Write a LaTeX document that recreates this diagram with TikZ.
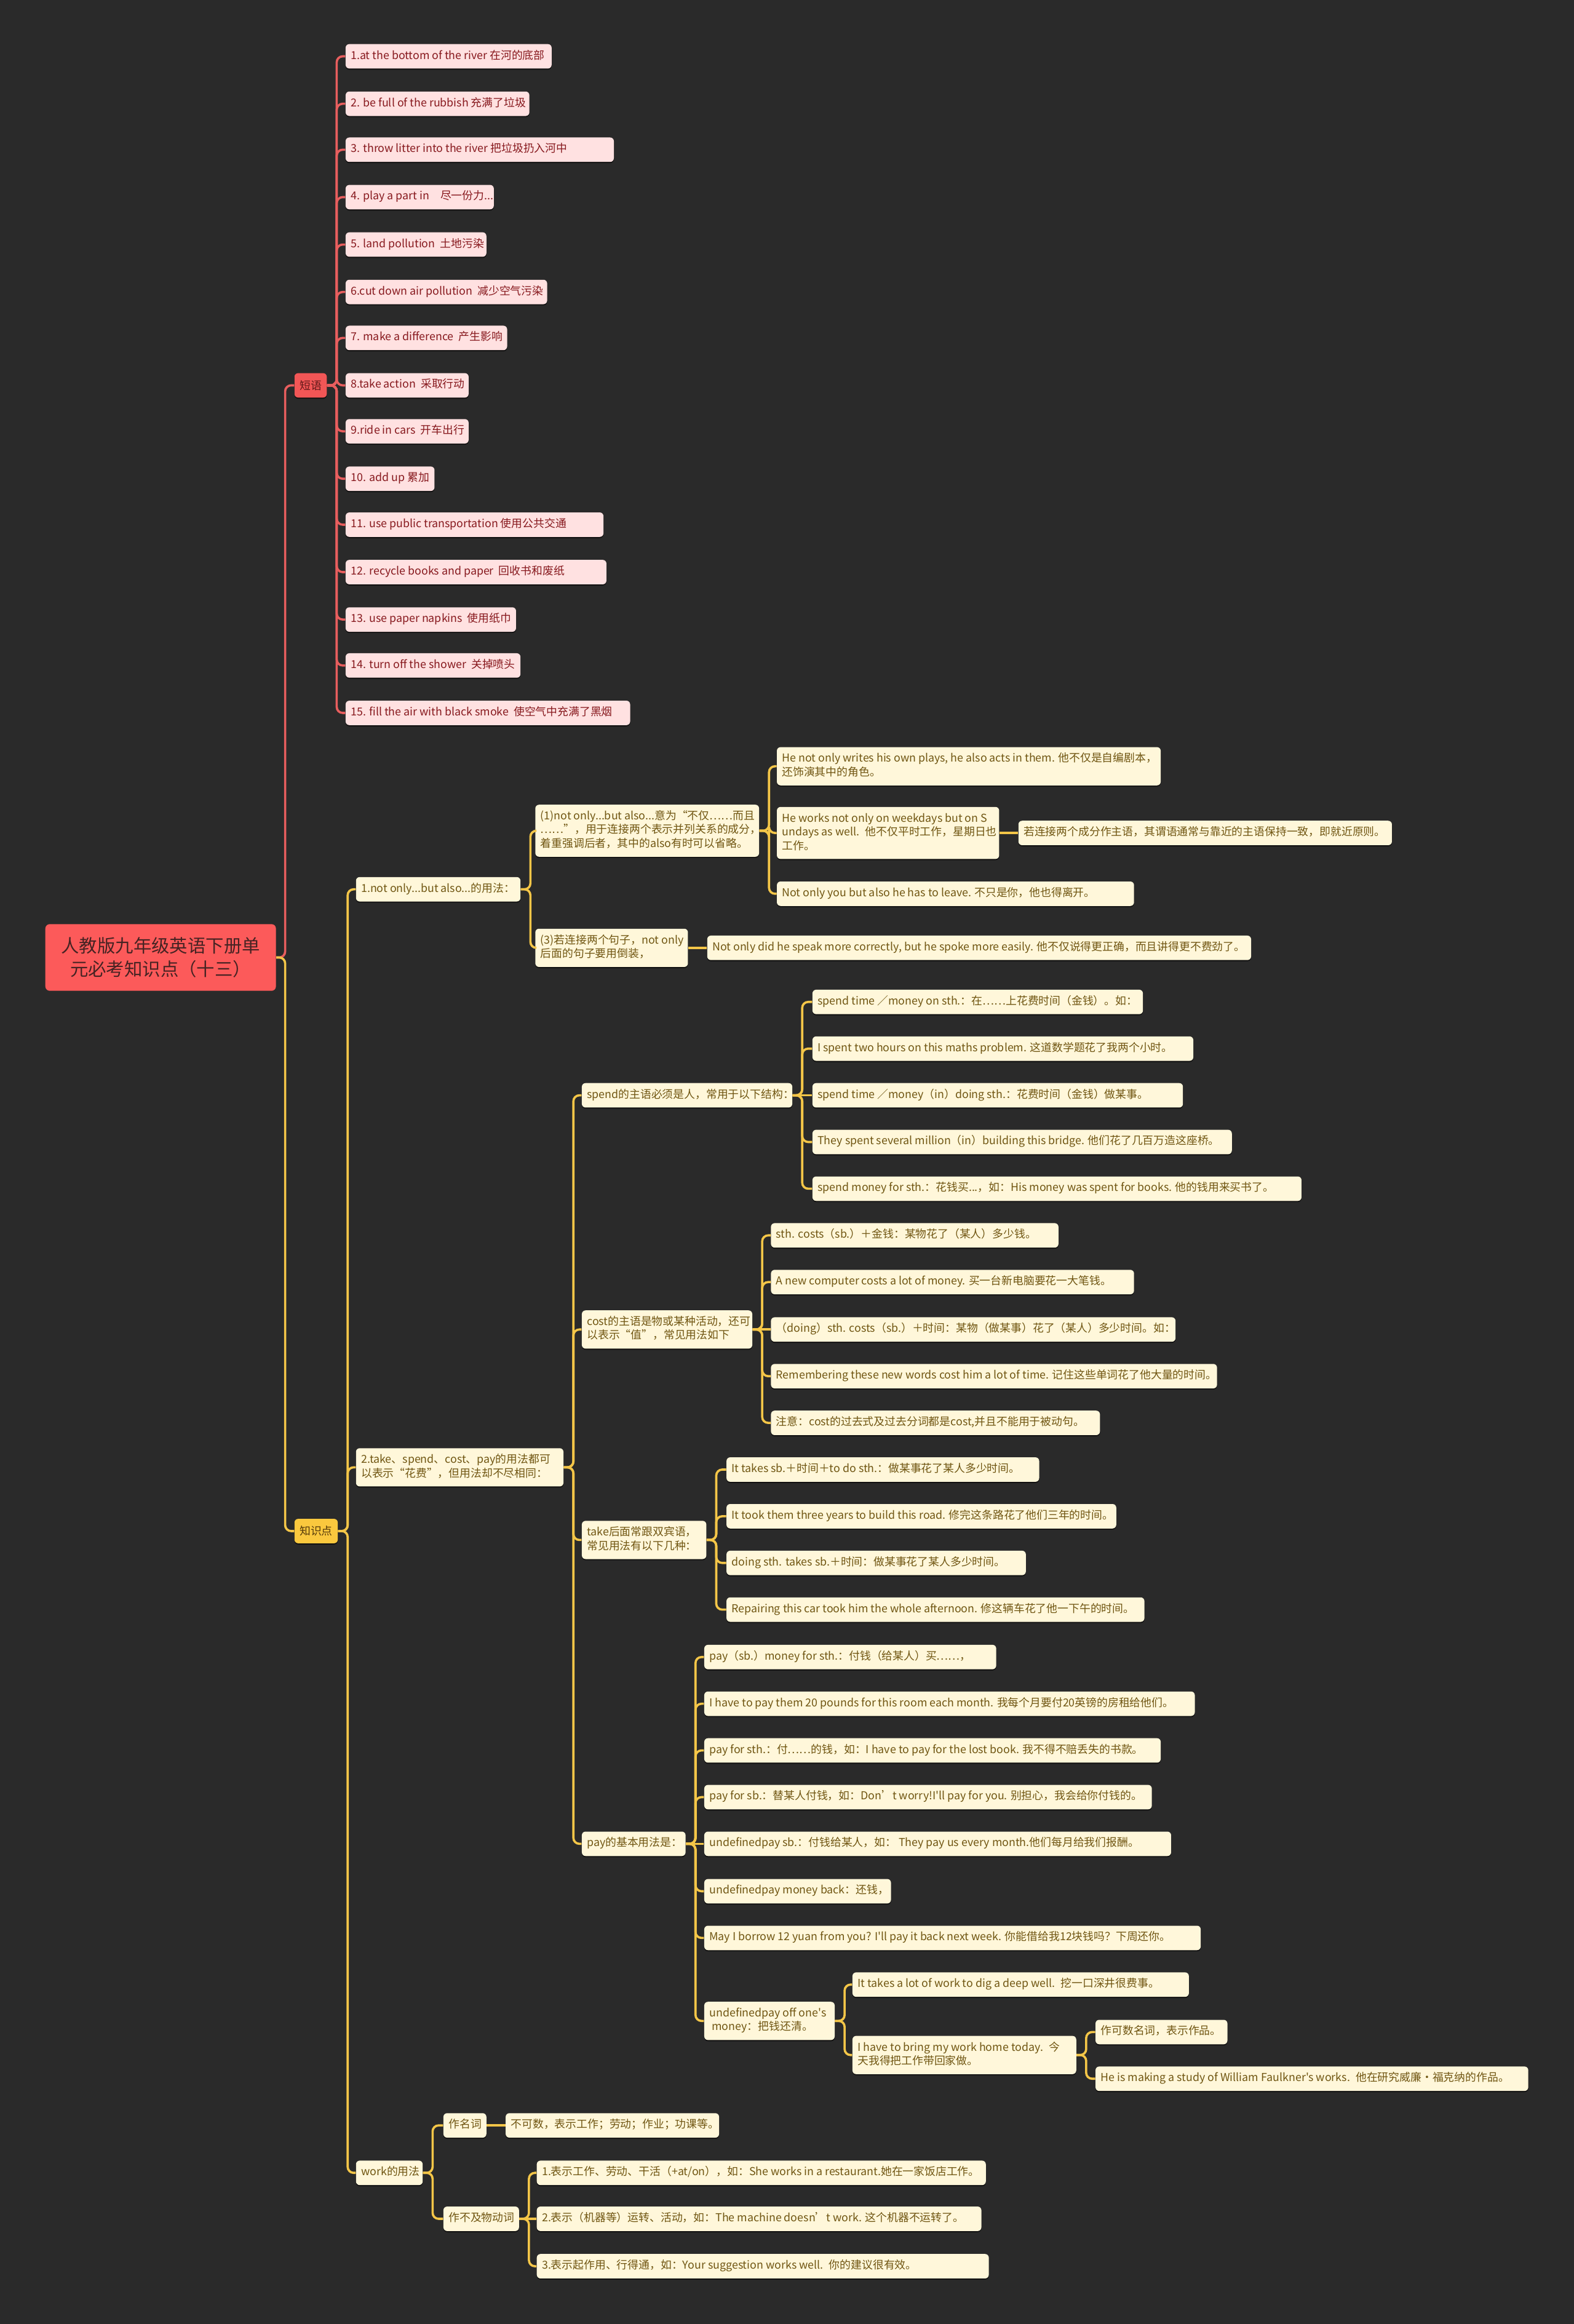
\documentclass[tikz,border=0pt]{standalone}
\usepackage{fontspec}
\newfontfamily\mapfont{Noto Sans CJK SC}
\usetikzlibrary{shadows}
\definecolor{bgdark}{RGB}{42,42,42}
\definecolor{rootred}{RGB}{252,90,90}
\definecolor{roottext}{RGB}{70,35,35}
\definecolor{tagred}{RGB}{242,86,86}
\definecolor{tagtext}{RGB}{95,25,25}
\definecolor{redline}{RGB}{232,94,94}
\definecolor{pinkfill}{RGB}{255,225,225}
\definecolor{pinktext}{RGB}{135,25,30}
\definecolor{goldline}{RGB}{244,198,72}
\definecolor{goldfill}{RGB}{250,200,62}
\definecolor{goldtext}{RGB}{85,58,10}
\definecolor{creamfill}{RGB}{255,247,218}
\definecolor{creamtext}{RGB}{112,86,18}
% text of a box: width, then lines
\newcommand{\mapline}[2]{\makebox[#1][l]{\begin{tabular}{@{}l@{}}#2\end{tabular}}}
\tikzset{
    mapbox/.style = {rounded corners=2.5pt, inner xsep=3.5pt, inner ysep=3.6pt,
        minimum height=16.5pt, anchor=west,
        font=\mapfont\fontsize{7.4}{9.3}\selectfont,
        drop shadow={shadow xshift=0pt, shadow yshift=-0.8pt, opacity=0.6, fill=black}},
    pinkbox/.style = {mapbox, fill=pinkfill, text=pinktext},
    creambox/.style = {mapbox, fill=creamfill, text=creamtext},
    rootbox/.style = {rounded corners=3pt, fill=rootred, text=roottext, anchor=west,
        font=\mapfont\fontsize{12.2}{15.9}\selectfont, align=center,
        minimum width=155.6pt, minimum height=45pt},
    redlink/.style = {draw=redline, line width=1.5pt, rounded corners=4pt},
    goldlink/.style = {draw=goldline, line width=1.5pt, rounded corners=4pt}
}
\begin{document}
\begin{tikzpicture}[x=1pt,y=-1pt]
\fill[bgdark] (0,0) rectangle (1062,1568);
\useasboundingbox (0,0) rectangle (1062,1568);

% root and main branches
\node[rootbox] (root) at (30.4,646) {人教版九年级英语下册单\\元必考知识点（十三）};
\node[mapbox, fill=tagred, text=tagtext] (dy) at (198.5,260) {短语};
\node[mapbox, fill=goldfill, text=goldtext] (zsd) at (198.5,1033) {知识点};

% phrases
\node[pinkbox] (p1) at (233,38) {\mapline{132pt}{1.at the bottom of the river 在河的底部}};
\node[pinkbox] (p2) at (233,70) {\mapline{117pt}{2. be full of the rubbish 充满了垃圾}};
\node[pinkbox] (p3) at (233,101) {\mapline{174pt}{3. throw litter into the river 把垃圾扔入河中}};
\node[pinkbox] (p4) at (233,133) {\mapline{93pt}{4. play a part in　尽一份力...}};
\node[pinkbox] (p5) at (233,165) {\mapline{88pt}{5. land pollution~ 土地污染}};
\node[pinkbox] (p6) at (233,197) {\mapline{129pt}{6.cut down air pollution~ 减少空气污染}};
\node[pinkbox] (p7) at (233,228) {\mapline{102pt}{7. make a difference~ 产生影响}};
\node[pinkbox] (p8) at (233,260) {\mapline{76pt}{8.take action~ 采取行动}};
\node[pinkbox] (p9) at (233,291) {\mapline{76pt}{9.ride in cars~ 开车出行}};
\node[pinkbox] (p10) at (233,323) {\mapline{53pt}{10. add up 累加}};
\node[pinkbox] (p11) at (233,354) {\mapline{167pt}{11. use public transportation 使用公共交通}};
\node[pinkbox] (p12) at (233,386) {\mapline{169pt}{12. recycle books and paper~ 回收书和废纸}};
\node[pinkbox] (p13) at (233,418) {\mapline{108pt}{13. use paper napkins~ 使用纸巾}};
\node[pinkbox] (p14) at (233,449) {\mapline{111pt}{14. turn off the shower~ 关掉喷头}};
\node[pinkbox] (p15) at (233,481) {\mapline{185pt}{15. fill the air with black smoke~ 使空气中充满了黑烟}};

% knowledge points
\node[creambox] (nb) at (240,600) {\mapline{104pt}{1.not only...but also...的用法：}};
\node[creambox] (tk) at (240,990) {\mapline{133pt}{2.take、spend、cost、pay的用法都可\\以表示“花费”，但用法却不尽相同：}};
\node[creambox] (wk) at (240,1466) {\mapline{38pt}{work的用法}};

% not only ... but also
\node[creambox] (nb1) at (361,560.5) {\mapline{144pt}{(1)not only...but also...意为“不仅……而且\\……”，用于连接两个表示并列关系的成分，\\着重强调后者，其中的also有时可以省略。}};
\node[creambox] (nb3) at (361,639.5) {\mapline{96pt}{(3)若连接两个句子，not only\\后面的句子要用倒装，}};
\node[creambox] (nb1a) at (524,517) {\mapline{252pt}{He not only writes his own plays, he also acts in them. 他不仅是自编剧本，\\还饰演其中的角色。}};
\node[creambox] (nb1b) at (524,562) {\mapline{143pt}{He works not only on weekdays but on S\\undays as well.~ 他不仅平时工作，星期日也\\工作。}};
\node[creambox] (nb1c) at (524,603) {\mapline{234pt}{Not only you but also he has to leave. 不只是你，他也得离开。}};
\node[creambox] (nbr) at (687,562) {\mapline{245pt}{若连接两个成分作主语，其谓语通常与靠近的主语保持一致，即就近原则。}};
\node[creambox] (nb3a) at (477,639.5) {\mapline{360pt}{Not only did he speak more correctly, but he spoke more easily. 他不仅说得更正确，而且讲得更不费劲了。}};

% take, spend, cost, pay
\node[creambox] (sp) at (392.4,739) {\mapline{135pt}{spend的主语必须是人，常用于以下结构：}};
\node[creambox] (co) at (392.4,897) {\mapline{108pt}{cost的主语是物或某种活动，还可\\以表示“值”，常见用法如下}};
\node[creambox] (ta) at (392.4,1039) {\mapline{77pt}{take后面常跟双宾语，\\常见用法有以下几种：}};
\node[creambox] (pa) at (392.4,1244) {\mapline{63pt}{pay的基本用法是：}};

\node[creambox] (sp1) at (548,676) {\mapline{216pt}{spend time ／money on sth.：在……上花费时间（金钱）。如：}};
\node[creambox] (sp2) at (548,707.5) {\mapline{250pt}{I spent two hours on this maths problem. 这道数学题花了我两个小时。}};
\node[creambox] (sp3) at (548,739) {\mapline{243pt}{spend time ／money（in）doing sth.：花费时间（金钱）做某事。}};
\node[creambox] (sp4) at (548,770.5) {\mapline{276pt}{They spent several million（in）building this bridge. 他们花了几百万造这座桥。}};
\node[creambox] (sp5) at (548,802) {\mapline{323pt}{spend money for sth.：花钱买...，如：His money was spent for books. 他的钱用来买书了。}};

\node[creambox] (co1) at (520,833.5) {\mapline{187pt}{sth. costs（sb.）＋金钱：某物花了（某人）多少钱。}};
\node[creambox] (co2) at (520,865) {\mapline{238pt}{A new computer costs a lot of money. 买一台新电脑要花一大笔钱。}};
\node[creambox] (co3) at (520,897) {\mapline{266pt}{（doing）sth. costs（sb.）＋时间：某物（做某事）花了（某人）多少时间。如：}};
\node[creambox] (co4) at (520,928.5) {\mapline{294pt}{Remembering these new words cost him a lot of time. 记住这些单词花了他大量的时间。}};
\node[creambox] (co5) at (520,960) {\mapline{215pt}{注意：cost的过去式及过去分词都是cost,并且不能用于被动句。}};

\node[creambox] (ta1) at (490,991.5) {\mapline{204pt}{It takes sb.＋时间＋to do sth.：做某事花了某人多少时间。}};
\node[creambox] (ta2) at (490,1023) {\mapline{256pt}{It took them three years to build this road. 修完这条路花了他们三年的时间。}};
\node[creambox] (ta3) at (490,1054.5) {\mapline{195pt}{doing sth. takes sb.＋时间：做某事花了某人多少时间。}};
\node[creambox] (ta4) at (490,1086) {\mapline{275pt}{Repairing this car took him the whole afternoon. 修这辆车花了他一下午的时间。}};

\node[creambox] (pa1) at (475,1118) {\mapline{190pt}{pay（sb.）money for sth.：付钱（给某人）买……，}};
\node[creambox] (pa2) at (475,1149.5) {\mapline{324pt}{I have to pay them 20 pounds for this room each month. 我每个月要付20英镑的房租给他们。}};
\node[creambox] (pa3) at (475,1181) {\mapline{301pt}{pay for sth.：付……的钱，如：I have to pay for the lost book. 我不得不赔丢失的书款。}};
\node[creambox] (pa4) at (475,1212.5) {\mapline{295pt}{pay for sb.：替某人付钱，如：Don’t worry!I'll pay for you. 别担心，我会给你付钱的。}};
\node[creambox] (pa5) at (475,1244) {\mapline{308pt}{undefinedpay sb.：付钱给某人，如： They pay us every month.他们每月给我们报酬。}};
\node[creambox] (pa6) at (475,1276) {\mapline{119pt}{undefinedpay money back：还钱，}};
\node[creambox] (pa7) at (475,1307.5) {\mapline{328pt}{May I borrow 12 yuan from you? I'll pay it back next week. 你能借给我12块钱吗？下周还你。}};
\node[creambox] (pa8) at (475,1363.5) {\mapline{81pt}{undefinedpay off one's\\\ money：把钱还清。}};

\node[creambox] (po1) at (575,1339) {\mapline{220pt}{It takes a lot of work to dig a deep well.~ 挖一口深井很费事。}};
\node[creambox] (po2) at (575,1386.5) {\mapline{144pt}{I have to bring my work home today.~ 今\\天我得把工作带回家做。}};
\node[creambox] (pw1) at (739,1371) {\mapline{82pt}{作可数名词，表示作品。}};
\node[creambox] (pw2) at (739,1402.5) {\mapline{285pt}{He is making a study of William Faulkner's works.~ 他在研究威廉•福克纳的作品。}};

% work
\node[creambox] (wn) at (299,1434) {\mapline{22pt}{作名词}};
\node[creambox] (wv) at (299,1497) {\mapline{44pt}{作不及物动词}};
\node[creambox] (wn1) at (341,1434) {\mapline{137pt}{不可数，表示工作；劳动；作业；功课等。}};
\node[creambox] (wv1) at (362,1466) {\mapline{296pt}{1.表示工作、劳动、干活（+at/on），如：She works in a restaurant.她在一家饭店工作。}};
\node[creambox] (wv2) at (362,1497) {\mapline{293pt}{2.表示（机器等）运转、活动，如：The machine doesn’t work. 这个机器不运转了。}};
\node[creambox] (wv3) at (362,1529) {\mapline{298pt}{3.表示起作用、行得通，如：Your suggestion works well.~ 你的建议很有效。}};

% connectors
\draw[redlink] (root.east) -- ++(6,0) |- (dy.west);
\foreach \i in {1,...,15}
    \draw[redlink] (dy.east) -- ++(6.5,0) |- (p\i.west);
\draw[goldlink] (root.east) -- ++(6,0) |- (zsd.west);
\foreach \a/\b in {zsd/nb, zsd/tk, zsd/wk, nb/nb1, nb/nb3, nb1/nb1a, nb1/nb1b, nb1/nb1c,
    tk/sp, tk/co, tk/ta, tk/pa, sp/sp1, sp/sp2, sp/sp4, sp/sp5,
    co/co1, co/co2, co/co4, co/co5, ta/ta1, ta/ta2, ta/ta3, ta/ta4,
    pa/pa1, pa/pa2, pa/pa3, pa/pa4, pa/pa6, pa/pa7, pa/pa8, pa8/po1, pa8/po2,
    po2/pw1, po2/pw2, wk/wn, wk/wv, wv/wv1, wv/wv3}
    \draw[goldlink] (\a.east) -- ++(6.5,0) |- (\b.west);
% children level with their parent
\foreach \a/\b in {nb1b/nbr, nb3/nb3a, sp/sp3, co/co3, pa/pa5, wn/wn1, wv/wv2}
    \draw[goldlink] (\a.east) -- (\b.west);
\end{tikzpicture}
\end{document}
